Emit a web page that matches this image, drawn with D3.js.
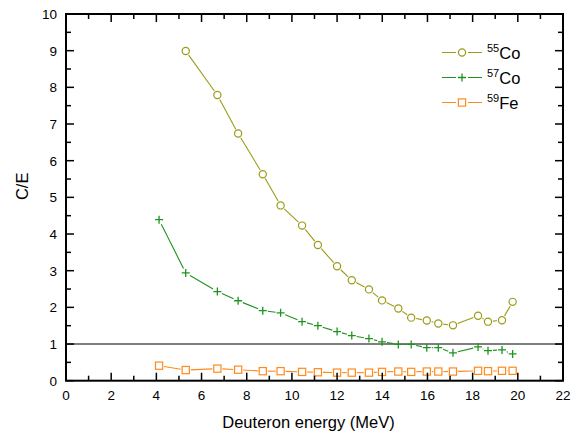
<!DOCTYPE html>
<html>
<head>
<meta charset="utf-8">
<script src="https://cdn.jsdelivr.net/npm/d3@7/dist/d3.min.js"></script>
<style>
  body { margin: 0; background: #fff; }
  svg { display: block; font-family: "Liberation Sans", Arial, sans-serif; }
</style>
</head>
<body>
<svg id="chart" width="574" height="434"></svg>
<script>
// energies (MeV) shared by the three series
var energy = [4.12, 5.30, 6.70, 7.62, 8.71, 9.50, 10.45, 11.15, 12.00, 12.65, 13.41,
              13.99, 14.71, 15.28, 15.97, 16.48, 17.13, 18.24, 18.68, 19.30, 19.77];
var co55 = [null, 8.99, 7.79, 6.74, 5.63, 4.78, 4.23, 3.70, 3.12, 2.74, 2.49,
            2.19, 1.97, 1.72, 1.64, 1.56, 1.51, 1.77, 1.61, 1.65, 2.15];
var co57 = [4.39, 2.94, 2.43, 2.18, 1.91, 1.85, 1.61, 1.50, 1.34, 1.23, 1.15,
            1.06, 0.99, 0.99, 0.90, 0.90, 0.76, 0.92, 0.82, 0.84, 0.73];
var fe59 = [0.41, 0.29, 0.33, 0.30, 0.26, 0.26, 0.24, 0.23, 0.22, 0.22, 0.22,
            0.24, 0.25, 0.24, 0.25, 0.25, 0.25, 0.27, 0.26, 0.27, 0.27];
var seriesNames = [["55", "Co"], ["57", "Co"], ["59", "Fe"]];
var xTicks = d3.range(0, 23, 2);
var yTicks = d3.range(0, 11, 1);

var svg = d3.select('#chart');
var mLeft = 66, mRight = 563, mTop = 14, mBottom = 380.7;

var x = d3.scaleLinear().domain([0, 22]).range([mLeft, mRight]);
var y = d3.scaleLinear().domain([0, 10]).range([mBottom, mTop]);

var series = [
    { vals: co55, color: '#9b9b17', marker: 'circle', name: seriesNames[0] },
    { vals: co57, color: '#1f931f', marker: 'plus', name: seriesNames[1] },
    { vals: fe59, color: '#ff8a1c', marker: 'square', name: seriesNames[2] }
];

// reference line at C/E = 1
svg.append('line')
    .attr('x1', mLeft).attr('x2', mRight)
    .attr('y1', y(1)).attr('y2', y(1))
    .attr('stroke', '#555').attr('stroke-width', 1.5);

function drawMarker(g, kind, cx, cy, color) {
    if (kind === 'circle') {
        g.append('circle').attr('cx', cx).attr('cy', cy).attr('r', 3.6)
            .attr('fill', '#fff').attr('stroke', color).attr('stroke-width', 1.2);
    } else if (kind === 'square') {
        g.append('rect').attr('x', cx - 3.6).attr('y', cy - 3.6)
            .attr('width', 7.2).attr('height', 7.2)
            .attr('fill', '#fff').attr('stroke', color).attr('stroke-width', 1.2);
    } else {
        g.append('path')
            .attr('d', `M${cx - 4},${cy}H${cx + 4}M${cx},${cy - 4}V${cy + 4}`)
            .attr('stroke', color).attr('stroke-width', 1.3).attr('fill', 'none');
    }
}

series.forEach(function (s) {
    var pts = energy
        .map((e, i) => ({ px: x(e), py: s.vals[i] == null ? null : y(s.vals[i]) }))
        .filter(p => p.py != null);
    var g = svg.append('g');
    var gap = 5;
    // segments trimmed so that the line stops short of each marker
    d3.pairs(pts).forEach(function (p) {
        var a = p[0], b = p[1];
        var dx = b.px - a.px, dy = b.py - a.py;
        var len = Math.sqrt(dx * dx + dy * dy);
        if (len <= 2 * gap) return;
        var ux = dx / len, uy = dy / len;
        g.append('line')
            .attr('x1', a.px + ux * gap).attr('y1', a.py + uy * gap)
            .attr('x2', b.px - ux * gap).attr('y2', b.py - uy * gap)
            .attr('stroke', s.color).attr('stroke-width', 1.1);
    });
    pts.forEach(p => drawMarker(g, s.marker, p.px, p.py, s.color));
});

// frame and ticks (inward on all four sides)
var axes = svg.append('g').attr('stroke', '#000');
axes.append('rect')
    .attr('x', mLeft).attr('y', mTop)
    .attr('width', mRight - mLeft).attr('height', mBottom - mTop)
    .attr('fill', 'none').attr('stroke-width', 2);

d3.range(0, 23, 1).forEach(function (v) {
    var len = v % 2 === 0 ? 8 : 5;
    axes.append('line').attr('x1', x(v)).attr('x2', x(v))
        .attr('y1', mBottom).attr('y2', mBottom - len).attr('stroke-width', 1.5);
    axes.append('line').attr('x1', x(v)).attr('x2', x(v))
        .attr('y1', mTop).attr('y2', mTop + len).attr('stroke-width', 1.5);
});
d3.range(0, 10.01, 0.5).forEach(function (v) {
    var len = v % 1 === 0 ? 8 : 5;
    axes.append('line').attr('y1', y(v)).attr('y2', y(v))
        .attr('x1', mLeft).attr('x2', mLeft + len).attr('stroke-width', 1.5);
    axes.append('line').attr('y1', y(v)).attr('y2', y(v))
        .attr('x1', mRight).attr('x2', mRight - len).attr('stroke-width', 1.5);
});

svg.append('g').selectAll('text').data(xTicks).enter().append('text')
    .attr('x', d => x(d)).attr('y', 400)
    .attr('text-anchor', 'middle').attr('font-size', 13.5)
    .text(d => d);

svg.append('g').selectAll('text').data(yTicks).enter().append('text')
    .attr('x', 57).attr('y', d => y(d) + 5)
    .attr('text-anchor', 'end').attr('font-size', 13.5)
    .text(d => d);

svg.append('text')
    .attr('x', (mLeft + mRight) / 2 - 6).attr('y', 428)
    .attr('text-anchor', 'middle').attr('font-size', 16.5)
    .text('Deuteron energy (MeV)');

svg.append('text')
    .attr('transform', 'translate(28,' + y(5.3) + ') rotate(-90)')
    .attr('text-anchor', 'middle').attr('font-size', 16.5)
    .text('C/E');

// legend
var legend = svg.append('g');
series.forEach(function (s, i) {
    var ly = 52.5 + i * 25;
    legend.append('line').attr('x1', 442).attr('x2', 482)
        .attr('y1', ly).attr('y2', ly)
        .attr('stroke', s.color).attr('stroke-width', 1.1);
    legend.append('rect').attr('x', 456).attr('y', ly - 6).attr('width', 12).attr('height', 12)
        .attr('fill', '#fff');
    drawMarker(legend, s.marker, 462, ly, s.color);
    var t = legend.append('text').attr('x', 487).attr('y', ly + 6).attr('font-size', 16.5);
    t.append('tspan').attr('font-size', 11).attr('dy', -7).text(s.name[0]);
    t.append('tspan').attr('dy', 7).text(s.name[1]);
});
</script>
</body>
</html>
